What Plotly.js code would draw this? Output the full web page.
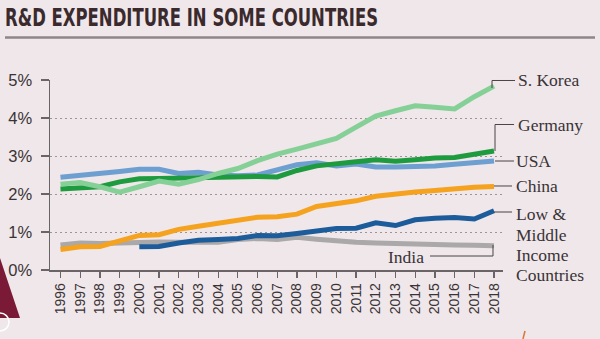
<!DOCTYPE html>
<html>
<head>
<meta charset="utf-8">
<script src="https://cdn.plot.ly/plotly-3.0.1.min.js"></script>
<style>
  html, body { margin: 0; padding: 0; background: #efe7ea; }
  #chart { width: 600px; height: 339px; }
</style>
</head>
<body>
<div id="chart"></div>
<script>
// ---- data (share of GDP spent on R&D, %) ----
const years = [1996,1997,1998,1999,2000,2001,2002,2003,2004,2005,2006,2007,2008,2009,2010,2011,2012,2013,2014,2015,2016,2017,2018];
const yearLabels = years.map(String);
const sKorea  = [2.26,2.30,2.19,2.05,2.19,2.34,2.26,2.38,2.54,2.67,2.88,3.05,3.18,3.33,3.46,3.76,4.05,4.19,4.32,4.28,4.24,4.56,4.84];
const germany = [2.13,2.17,2.19,2.32,2.40,2.41,2.42,2.45,2.44,2.45,2.46,2.45,2.62,2.74,2.78,2.85,2.90,2.86,2.90,2.95,2.96,3.06,3.13];
const usa     = [2.44,2.48,2.53,2.59,2.65,2.65,2.54,2.57,2.50,2.48,2.50,2.62,2.77,2.82,2.74,2.79,2.71,2.71,2.71,2.74,2.78,2.82,2.87];
const china   = [0.54,0.61,0.62,0.75,0.91,0.93,1.07,1.15,1.24,1.31,1.39,1.40,1.47,1.67,1.74,1.82,1.94,2.01,2.05,2.09,2.14,2.18,2.20];
const lowMid  = [null,null,null,null,0.61,0.62,0.71,0.78,0.80,0.83,0.91,0.90,0.96,1.04,1.09,1.10,1.24,1.17,1.32,1.36,1.38,1.34,1.56];
const india   = [0.66,0.71,0.70,0.72,0.74,0.74,0.73,0.72,0.73,0.80,0.83,0.80,0.86,0.81,0.76,0.73,0.71,0.69,0.68,0.67,0.66,0.65,0.64];
const yTickVals = [0,1,2,3,4,5];
const yTickText = ['0%','1%','2%','3%','4%','5%'];
const seriesNames = ['S. Korea','Germany','USA','China','India'];
const lowMidLines = ['Low &amp;','Middle','Income','Countries'];
const titleText = 'R&amp;D EXPENDITURE IN SOME COUNTRIES';

// ---- styling ----
const BG = '#efe7ea';
const AXIS = '#6b6466';
const TXT = '#3a3336';
const M = {l: 50, r: 97, t: 80, b: 69};
const PW = 600 - M.l - M.r, PH = 339 - M.t - M.b;
const PX = x => (x - M.l) / PW;
const PY = y => (339 - M.b - y) / PH;
const TITLE_L = 5, TITLE_W = 373;

function tr(y, name, color) {
  return {x: years, y: y, name: name, type: 'scatter', mode: 'lines',
          line: {color: color, width: 5}, connectgaps: false, hoverinfo: 'skip'};
}
const data = [
  tr(india, 'India', '#aaa8a9'),
  tr(lowMid, 'Low & Middle Income Countries', '#1d5c9b'),
  tr(china, 'China', '#f5a21f'),
  tr(usa, 'USA', '#6d9fd1'),
  tr(germany, 'Germany', '#1f9b3f'),
  tr(sKorea, 'S. Korea', '#84d096')
];

function seg(pts) {
  let d = 'M' + pts.map(p => PX(p[0]).toFixed(5) + ',' + PY(p[1]).toFixed(5)).join(' L');
  return {type: 'path', xref: 'paper', yref: 'paper', path: d,
          line: {color: '#4a4446', width: 1}};
}
const shapes = [
  {type: 'line', xref: 'paper', yref: 'paper', x0: PX(5), x1: PX(595), y0: PY(37.5), y1: PY(37.5),
   line: {color: '#8e8789', width: 2.5}},
  seg([[492,88],[492,80.5],[515,80.5]]),
  seg([[495,151],[495,124.5],[514,124.5]]),
  seg([[495,161],[514,161]]),
  seg([[494,186],[512,186]]),
  seg([[494,212],[512,212]]),
  seg([[493,245],[493,256],[430,256]]),
  {type: 'path', xref: 'paper', yref: 'paper', layer: 'above',
   path: 'M' + PX(0) + ',' + PY(258) + ' L' + PX(20) + ',' + PY(318) + ' L' + PX(0) + ',' + PY(318) + ' Z',
   fillcolor: '#7b1a36', line: {width: 0}},
  {type: 'circle', xref: 'paper', yref: 'paper', x0: PX(-9), x1: PX(9), y0: PY(313), y1: PY(331),
   line: {color: '#ffffff', width: 1.5}},
  {type: 'line', xref: 'paper', yref: 'paper', x0: PX(525), x1: PX(523), y0: PY(331), y1: PY(339),
   line: {color: '#d9763a', width: 1.5}}
];

const lab = (text, x, y, xanchor) => ({
  text: text, xref: 'paper', yref: 'paper', x: PX(x), y: PY(y), showarrow: false,
  xanchor: xanchor || 'left', yanchor: 'middle', align: 'left',
  font: {family: 'Liberation Serif, serif', size: 17.5, color: TXT}
});
const annotations = [
  {text: titleText, xref: 'paper', yref: 'paper', x: PX(TITLE_L + TITLE_W / 2), y: PY(17),
   xanchor: 'center', yanchor: 'middle', showarrow: false, name: 'title',
   font: {family: 'Liberation Sans Narrow, DejaVu Sans Condensed, Liberation Sans, sans-serif',
          size: 25, weight: 'bold', color: '#3b2a2d'}},
  lab(seriesNames[0], 516, 80),
  lab(seriesNames[1], 516, 125),
  lab(seriesNames[2], 514, 161),
  lab(seriesNames[3], 514, 186),
  lab(lowMidLines[0], 514, 214),
  lab(lowMidLines[1], 514, 234.5),
  lab(lowMidLines[2], 514, 255),
  lab(lowMidLines[3], 514, 275),
  lab(seriesNames[4], 426, 257, 'right')
];

const layout = {
  width: 600, height: 339, margin: M,
  paper_bgcolor: BG, plot_bgcolor: BG,
  showlegend: false,
  xaxis: {range: [1995.468, 2018.456], tickmode: 'array', tickvals: years, ticktext: yearLabels,
          tickangle: -90, ticks: 'outside', ticklen: 6, tickwidth: 1.2, tickcolor: AXIS,
          showline: true, linecolor: AXIS, linewidth: 1.5, showgrid: false, zeroline: false,
          tickfont: {family: 'Liberation Sans, Arial, sans-serif', size: 14, color: TXT}},
  yaxis: {range: [0, 5], tickmode: 'array', tickvals: yTickVals, ticktext: yTickText,
          ticks: 'outside', ticklen: 8, tickwidth: 1.2, tickcolor: AXIS, ticklabelstandoff: 5,
          showline: true, linecolor: AXIS, linewidth: 1.5, zeroline: false,
          showgrid: true, gridcolor: '#9c9598', gridwidth: 1, griddash: '2px,3px',
          tickfont: {family: 'Liberation Sans, Arial, sans-serif', size: 16.5, color: TXT}},
  shapes: shapes,
  annotations: annotations
};

Plotly.newPlot('chart', data, layout, {staticPlot: true, displayModeBar: false}).then(gd => {
  const t = gd.querySelector('.annotation[data-index="0"] text');
  if (t) {
    t.setAttribute('textLength', String(TITLE_W));
    t.setAttribute('lengthAdjust', 'spacingAndGlyphs');
  }
});
</script>
</body>
</html>
